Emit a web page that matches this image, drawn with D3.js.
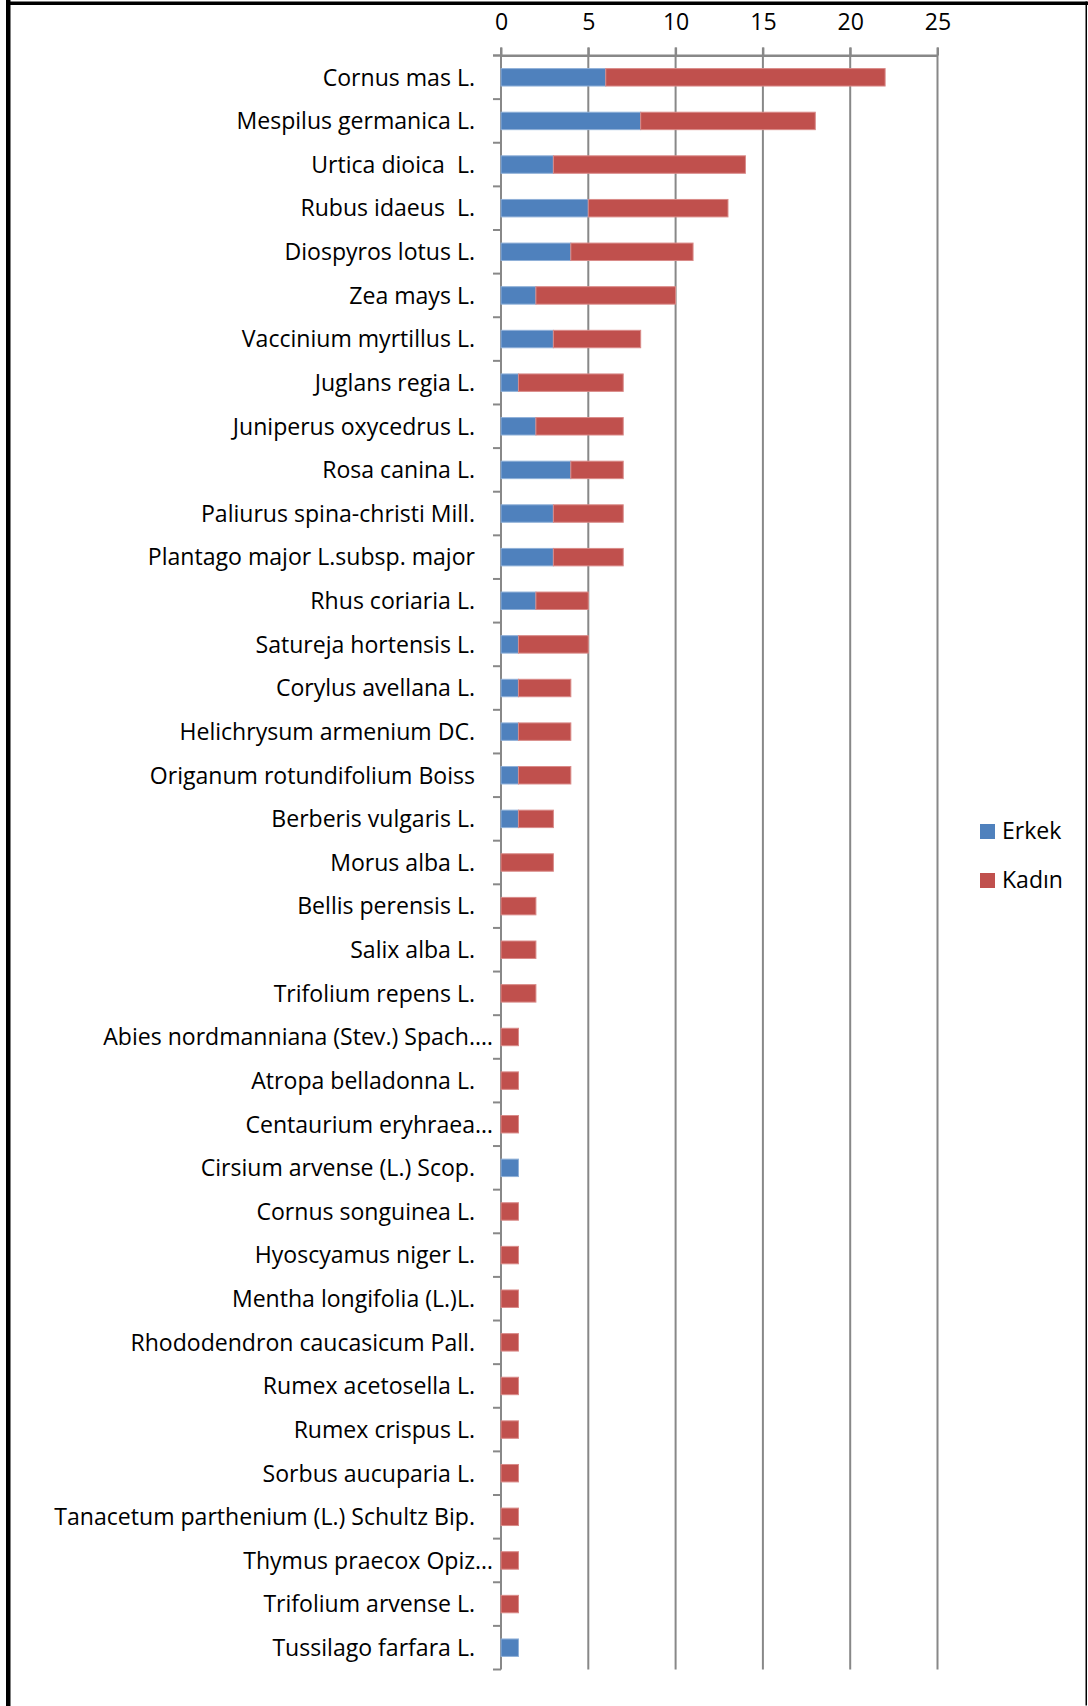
<!DOCTYPE html>
<html>
<head>
<meta charset="utf-8">
<script src="https://cdn.jsdelivr.net/npm/d3@7"></script>
<style>
  html, body { margin: 0; padding: 0; background: #fff; }
  svg { display: block; }
  text { font-family: "Open Sans", sans-serif; fill: #000; }
</style>
</head>
<body>
<svg id="chart" width="1088" height="1706"></svg>
<script>
// Plant species (display labels, top to bottom)
const categories = [
  "Cornus mas L.", "Mespilus germanica L.", "Urtica dioica  L.", "Rubus idaeus  L.",
  "Diospyros lotus L.", "Zea mays L.", "Vaccinium myrtillus L.", "Juglans regia L.",
  "Juniperus oxycedrus L.", "Rosa canina L.", "Paliurus spina-christi Mill.",
  "Plantago major L.subsp. major", "Rhus coriaria L.", "Satureja hortensis L.",
  "Corylus avellana L.", "Helichrysum armenium DC.", "Origanum rotundifolium Boiss",
  "Berberis vulgaris L.", "Morus alba L.", "Bellis perensis L.", "Salix alba L.",
  "Trifolium repens L.", "Abies nordmanniana (Stev.) Spach.…", "Atropa belladonna L.",
  "Centaurium eryhraea…", "Cirsium arvense (L.) Scop.", "Cornus songuinea L.",
  "Hyoscyamus niger L.", "Mentha longifolia (L.)L.", "Rhododendron caucasicum Pall.",
  "Rumex acetosella L.", "Rumex crispus L.", "Sorbus aucuparia L.",
  "Tanacetum parthenium (L.) Schultz Bip.", "Thymus praecox Opiz…",
  "Trifolium arvense L.", "Tussilago farfara L."
];

// Number of male respondents per species
const erkek = [6, 8, 3, 5, 4, 2, 3, 1, 2, 4, 3, 3, 2, 1, 1, 1, 1, 1, 0, 0, 0, 0,
               0, 0, 0, 1, 0, 0, 0, 0, 0, 0, 0, 0, 0, 0, 1];
// Number of female respondents per species
const kadin = [16, 10, 11, 8, 7, 8, 5, 6, 5, 3, 4, 4, 3, 4, 3, 3, 3, 2, 3, 2, 2, 2,
               1, 1, 1, 0, 1, 1, 1, 1, 1, 1, 1, 1, 1, 1, 0];

const seriesNames = ["Erkek", "Kadın"];
const seriesColors = ["#4F81BD", "#C0504D"];
const seriesStroke = ["#8fb0d8", "#d98a88"];
const xTicks = [0, 5, 10, 15, 20, 25];

const svg = d3.select("#chart");

// Frame
svg.append("rect").attr("x", 6).attr("y", 0).attr("width", 4.5).attr("height", 1706).attr("fill", "#000");
svg.append("rect").attr("x", 6).attr("y", 1.5).attr("width", 1082).attr("height", 3.5).attr("fill", "#000");
svg.append("rect").attr("x", 1085.5).attr("y", 1.5).attr("width", 1.5).attr("height", 1704).attr("fill", "#000");

const plotTop = 55.5, plotBottom = 1669.5;

const x = d3.scaleLinear().domain([0, 25]).range([501, 937.5]);
const y = d3.scaleBand().domain(categories).range([plotTop, plotBottom])
  .paddingInner(0.6).paddingOuter(0.3);

const gridColor = "#888888";

// Font size for labels: fit the longest species name to its column width
const probe = svg.append("text").attr("font-size", 20)
  .text("Tanacetum parthenium (L.) Schultz Bip.");
const labelSize = 20 * 421 / probe.node().getComputedTextLength();
probe.remove();

// Vertical gridlines
svg.append("g").selectAll("line").data(xTicks.slice(1)).join("line")
  .attr("x1", d => x(d)).attr("x2", d => x(d))
  .attr("y1", plotTop - 8).attr("y2", plotBottom)
  .attr("stroke", gridColor).attr("stroke-width", 2);

// Top value axis
const xAxis = svg.append("g").attr("transform", `translate(0,${plotTop})`)
  .call(d3.axisTop(x).tickValues(xTicks).tickSize(8).tickSizeOuter(0).tickPadding(18));
xAxis.select(".domain").attr("stroke", gridColor).attr("stroke-width", 2);
xAxis.selectAll(".tick line").attr("stroke", gridColor).attr("stroke-width", 2);
xAxis.selectAll(".tick text").attr("font-size", labelSize).attr("font-family", "'Open Sans', sans-serif").attr("fill", "#000");
// Extend the axis line slightly past the category axis
svg.append("line").attr("x1", x(0) - 8).attr("x2", x(25)).attr("y1", plotTop).attr("y2", plotTop)
  .attr("stroke", gridColor).attr("stroke-width", 2);

// Category axis
svg.append("line").attr("x1", x(0)).attr("x2", x(0)).attr("y1", plotTop - 8).attr("y2", plotBottom)
  .attr("stroke", gridColor).attr("stroke-width", 2);
const boundaries = d3.range(categories.length + 1).map(i => plotTop + i * y.step());
svg.append("g").selectAll("line").data(boundaries).join("line")
  .attr("x1", x(0) - 8).attr("x2", x(0)).attr("y1", d => d).attr("y2", d => d)
  .attr("stroke", gridColor).attr("stroke-width", 2);

svg.append("g").selectAll("text").data(categories).join("text")
  .attr("x", d => d.endsWith("…") ? x(0) - 8 : x(0) - 26)
  .attr("y", d => y(d) + y.bandwidth() / 2)
  .attr("dy", "0.36em")
  .attr("text-anchor", "end")
  .attr("font-size", labelSize)
  .style("white-space", "pre")
  .text(d => d);

// Stacked bars
const rows = categories.map((c, i) => ({ name: c, Erkek: erkek[i], "Kadın": kadin[i] }));
const stacked = d3.stack().keys(seriesNames)(rows);

svg.append("g").selectAll("g").data(stacked).join("g")
  .attr("fill", (d, i) => seriesColors[i])
  .attr("stroke", (d, i) => seriesStroke[i])
  .attr("stroke-width", 1)
  .selectAll("rect").data(d => d.filter(v => v[1] > v[0])).join("rect")
  .attr("x", d => x(d[0]))
  .attr("width", d => x(d[1]) - x(d[0]))
  .attr("y", d => y(d.data.name))
  .attr("height", y.bandwidth());

// Legend
const legend = svg.append("g").selectAll("g").data(seriesNames).join("g")
  .attr("transform", (d, i) => `translate(980,${824 + i * 49})`);
legend.append("rect").attr("width", 15).attr("height", 15)
  .attr("fill", (d, i) => seriesColors[i]);
legend.append("text").attr("x", 22).attr("y", 15).attr("font-size", labelSize).text(d => d);
</script>
</body>
</html>
